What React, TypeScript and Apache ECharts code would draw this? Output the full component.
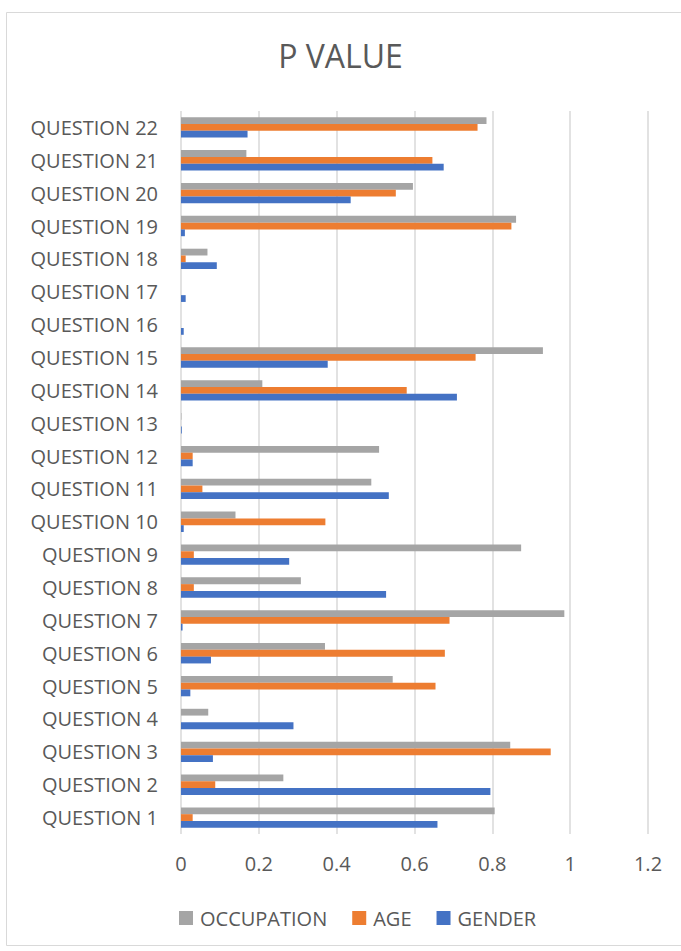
import React, { useEffect, useRef } from "react";
import * as echarts from "echarts";

const categories = [
  "QUESTION 1", "QUESTION 2", "QUESTION 3", "QUESTION 4", "QUESTION 5", "QUESTION 6",
  "QUESTION 7", "QUESTION 8", "QUESTION 9", "QUESTION 10", "QUESTION 11", "QUESTION 12",
  "QUESTION 13", "QUESTION 14", "QUESTION 15", "QUESTION 16", "QUESTION 17", "QUESTION 18",
  "QUESTION 19", "QUESTION 20", "QUESTION 21", "QUESTION 22",
];

const gender = [
  0.659, 0.795, 0.082, 0.289, 0.024, 0.077, 0.004, 0.527, 0.278, 0.007, 0.534, 0.030,
  0.002, 0.709, 0.377, 0.007, 0.012, 0.092, 0.010, 0.436, 0.675, 0.171,
];
const age = [
  0.030, 0.088, 0.950, 0, 0.654, 0.678, 0.690, 0.033, 0.033, 0.371, 0.055, 0.030,
  0, 0.580, 0.757, 0, 0, 0.012, 0.849, 0.552, 0.646, 0.762,
];
const occupation = [
  0.806, 0.263, 0.846, 0.070, 0.544, 0.370, 0.985, 0.308, 0.874, 0.140, 0.489, 0.509,
  0.001, 0.209, 0.930, 0, 0, 0.068, 0.861, 0.596, 0.168, 0.785,
];

export default function App() {
  const ref = useRef<HTMLDivElement>(null);
  useEffect(() => {
    if (!ref.current) return;
    const chart = echarts.init(ref.current, undefined, { renderer: "svg" });
    const font = "'Open Sans', 'Noto Sans', sans-serif";
    chart.setOption({
      animation: false,
      backgroundColor: "#ffffff",
      title: {
        text: "P VALUE",
        left: "center",
        top: 34,
        textStyle: { color: "#595959", fontSize: 32, fontWeight: "normal", fontFamily: font },
      },
      graphic: [
        {
          type: "rect",
          shape: { x: 6.5, y: 12.5, width: 690, height: 933 },
          style: { fill: "none", stroke: "#D9D9D9", lineWidth: 1 },
          silent: true,
        },
      ],
      legend: {
        top: 903,
        left: 174,
        itemWidth: 14,
        itemHeight: 14,
        itemGap: 25,
        icon: "rect",
        data: ["OCCUPATION", "AGE", "GENDER"],
        textStyle: { color: "#595959", fontSize: 20, fontFamily: font, padding: [0, 0, 0, 2] },
      },
      grid: { left: 181, right: 33, top: 111, bottom: 117, containLabel: false },
      xAxis: {
        type: "value",
        min: 0,
        max: 1.2,
        interval: 0.2,
        axisLine: { show: false },
        axisTick: { show: false },
        splitLine: { lineStyle: { color: "#D9D9D9", width: 1.5 } },
        axisLabel: {
          color: "#595959",
          fontSize: 20,
          fontFamily: font,
          margin: 19,
          formatter: (v: number) => String(Math.round(v * 10) / 10),
        },
      },
      yAxis: {
        type: "category",
        data: categories,
        axisLine: { show: false },
        axisTick: { show: false },
        axisLabel: { color: "#595959", fontSize: 20, fontFamily: font, margin: 23 },
      },
      series: [
        {
          name: "OCCUPATION",
          type: "bar",
          data: occupation,
          itemStyle: { color: "#A5A5A5" },
          barGap: "0%",
          barCategoryGap: "38%",
        },
        { name: "AGE", type: "bar", data: age, itemStyle: { color: "#ED7D31" } },
        { name: "GENDER", type: "bar", data: gender, itemStyle: { color: "#4472C4" } },
      ],
    });
    return () => chart.dispose();
  }, []);
  return (
    <div
      ref={ref}
      style={{ position: "fixed", left: 0, top: 0, width: 681, height: 951 }}
    />
  );
}
